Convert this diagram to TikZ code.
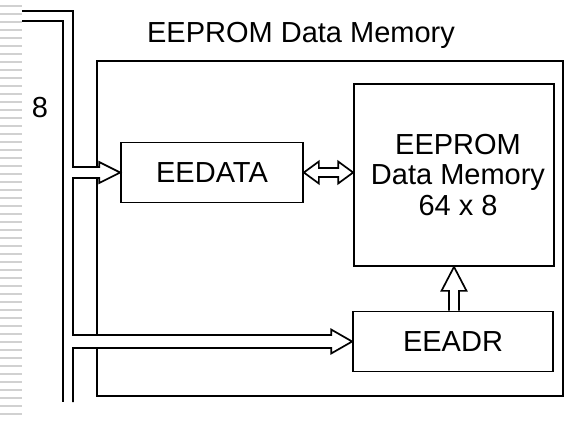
\documentclass[tikz,border=0pt]{standalone}
\usepackage{fontspec}
\setmainfont{Liberation Sans}
\usetikzlibrary{calc}
\begin{document}
\begin{tikzpicture}[x=1pt,y=-1pt,line join=miter,
  wire/.style={draw=black,line width=1.7pt},
  rulebar/.style={draw=black!18,line width=2pt},
  lbl/.style={font=\fontsize{29}{31}\selectfont,inner sep=0pt},
  blockbox/.style={draw=black,line width=1.7pt,inner sep=0pt,align=center,font=\fontsize{29}{30.5}\selectfont},
  hollow/.style={draw=black,line width=1.7pt,fill=white}]
\useasboundingbox (0,0) rectangle (578,421);
% ruled strip at the left
\foreach \k in {0,...,51} \draw[rulebar] (0,6+8*\k) -- (22,6+8*\k);
% nodes
\node[lbl,anchor=base] (title) at (301,42) {EEPROM Data Memory};
\node[lbl,anchor=base] (eight) at (40,117) {8};
\node[blockbox,minimum width=466pt,minimum height=335pt] (outer) at (330,228.5) {};
\node[blockbox,minimum width=182pt,minimum height=60pt] (eedata) at (212,172.5) {EEDATA};
\node[blockbox,minimum width=200pt,minimum height=182pt] (mem) at (454,175) {\hspace*{8pt}EEPROM\\\hspace*{8pt}Data Memory\\\hspace*{8pt}64 x 8};
\node[blockbox,minimum width=200pt,minimum height=60pt] (eeadr) at (453,341.5) {EEADR};
% gaps in the outer box where the bus arrows enter
\fill[white] (94,167.9) rectangle (100,177.1);
\fill[white] (94,335.9) rectangle (100,347.1);
% bus lines
\coordinate (busA) at (22,11);
\coordinate (busB) at (22,21);
\coordinate (busEndA) at (73,402);
\coordinate (busEndB) at (63,402);
\coordinate (T) at (eedata.west);
\coordinate (U) at (eeadr.west);
\draw[wire] (busB) -| (busEndB);
\draw[wire] (busA) -| (73,167)
  -- ($(T)+(-21,-5.5)$) -- ($(T)+(-21,-10.5)$) -- (T) -- ($(T)+(-21,10.5)$) -- ($(T)+(-21,5.5)$)
  -- (73,178) -- (73,335)
  -- ($(U)+(-21,-6.5)$) -- ($(U)+(-21,-12)$) -- (U) -- ($(U)+(-21,12)$) -- ($(U)+(-21,6.5)$)
  -- (73,348) -- (busEndA);
% double arrow between EEDATA and memory array
\coordinate (L) at (eedata.east);
\coordinate (R) at (mem.west |- eedata.east);
\draw[hollow] (L) -- ($(L)+(15,-11)$) -- ($(L)+(15,-4.5)$) -- ($(R)+(-15,-4.5)$) -- ($(R)+(-15,-11)$)
  -- (R) -- ($(R)+(-15,11)$) -- ($(R)+(-15,4.5)$) -- ($(L)+(15,4.5)$) -- ($(L)+(15,11)$) -- cycle;
% up arrow from EEADR to memory array
\coordinate (M) at (mem.south);
\coordinate (B) at (mem.south |- eeadr.north);
\draw[wire] ($(B)+(-5,0)$) -- ($(M)+(-5,24)$) -- ($(M)+(-12.5,24)$) -- (M) -- ($(M)+(12.5,24)$) -- ($(M)+(5,24)$) -- ($(B)+(5,0)$);
\end{tikzpicture}
\end{document}
